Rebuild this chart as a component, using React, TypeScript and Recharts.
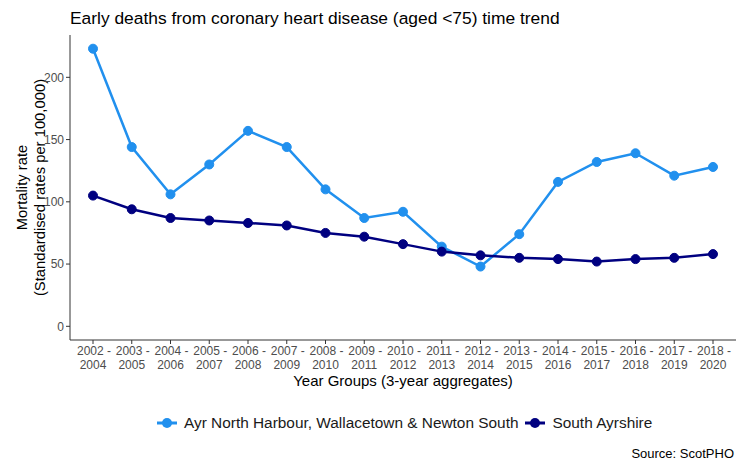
import { LineChart, Line, XAxis, YAxis } from 'recharts';

const FONT = '"Liberation Sans", Arial, sans-serif';

const yearGroups = [
  '2002 - 2004', '2003 - 2005', '2004 - 2006', '2005 - 2007', '2006 - 2008',
  '2007 - 2009', '2008 - 2010', '2009 - 2011', '2010 - 2012', '2011 - 2013',
  '2012 - 2014', '2013 - 2015', '2014 - 2016', '2015 - 2017', '2016 - 2018',
  '2017 - 2019', '2018 - 2020',
];
const ayrNorthRates = [223, 144, 106, 130, 157, 144, 110, 87, 92, 64, 48, 74, 116, 132, 139, 121, 128];
const southAyrshireRates = [105, 94, 87, 85, 83, 81, 75, 72, 66, 60, 57, 55, 54, 52, 54, 55, 58];
const yTicks = [0, 50, 100, 150, 200];

const AREA = 'Ayr North Harbour, Wallacetown & Newton South';
const COUNCIL = 'South Ayrshire';
const AREA_COLOR = '#2190ee';
const COUNCIL_COLOR = '#000080';

const data = yearGroups.map((period, i) => ({
  period,
  area: ayrNorthRates[i],
  council: southAyrshireRates[i],
}));

function YearTick({ x, y, payload }: any) {
  const [from, to] = String(payload.value).split(' - ');
  return (
    <g transform={`translate(${x},${y})`}>
      <text textAnchor="middle" fill="#4d4d4d" fontSize={12} fontFamily={FONT}>
        <tspan x={1} dy={10}>{from} -</tspan>
        <tspan x={0} dy={13.5}>{to}</tspan>
      </text>
    </g>
  );
}

function YLabel({ viewBox }: any) {
  const cy = viewBox.y + viewBox.height / 2;
  return (
    <text
      transform={`translate(0,${cy}) rotate(-90)`}
      textAnchor="middle"
      fontSize={14.8}
      fontFamily={FONT}
      fill="#000"
    >
      <tspan x={0} y={27}>Mortality rate</tspan>
      <tspan x={0} y={45}>(Standardised rates per 100,000)</tspan>
    </text>
  );
}

function LegendMarker({ color }: { color: string }) {
  return (
    <svg width={20} height={12} style={{ marginRight: 7 }}>
      <line x1={0} x2={20} y1={6} y2={6} stroke={color} strokeWidth={3} />
      <circle cx={10} cy={6} r={5} fill={color} />
    </svg>
  );
}

export default function App() {
  return (
    <div style={{ position: 'absolute', left: 0, top: 0, width: 736, height: 462, background: '#fff', overflow: 'hidden' }}>
      <div style={{ position: 'absolute', left: 70, top: 8, fontFamily: FONT, fontSize: 17.4, color: '#000', whiteSpace: 'nowrap' }}>
        Early deaths from coronary heart disease (aged &lt;75) time trend
      </div>
      <LineChart width={736} height={462} data={data} margin={{ top: 35, right: 0, bottom: 72, left: 20 }}>
        <XAxis
          dataKey="period"
          interval={0}
          padding={{ left: 23, right: 23 }}
          tick={<YearTick />}
          tickSize={4}
          tickMargin={1}
          height={50}
          stroke="#333"
          tickLine={{ stroke: '#333' }}
          label={{ value: 'Year Groups (3-year aggregates)', position: 'insideBottom', offset: 0, dy: -4, fill: '#000', fontSize: 15, fontFamily: FONT }}
        />
        <YAxis
          width={50}
          domain={[-11, 234]}
          ticks={yTicks}
          allowDataOverflow
          tickSize={4}
          tickMargin={2}
          stroke="#333"
          tick={{ fill: '#4d4d4d', fontSize: 12, fontFamily: FONT }}
          label={<YLabel />}
        />
        <Line
          dataKey="area"
          name={AREA}
          stroke={AREA_COLOR}
          strokeWidth={2.5}
          dot={{ r: 4.5, fill: AREA_COLOR, stroke: AREA_COLOR, strokeWidth: 1 }}
          activeDot={false}
          isAnimationActive={false}
        />
        <Line
          dataKey="council"
          name={COUNCIL}
          stroke={COUNCIL_COLOR}
          strokeWidth={2.5}
          dot={{ r: 4.5, fill: COUNCIL_COLOR, stroke: COUNCIL_COLOR, strokeWidth: 1 }}
          activeDot={false}
          isAnimationActive={false}
        />
      </LineChart>
      <div style={{ position: 'absolute', left: 157, top: 414, display: 'flex', alignItems: 'center', fontFamily: FONT, fontSize: 15.4, color: '#1a1a1a', whiteSpace: 'nowrap' }}>
        <span style={{ display: 'flex', alignItems: 'center', marginRight: 7 }}>
          <LegendMarker color={AREA_COLOR} />
          {AREA}
        </span>
        <span style={{ display: 'flex', alignItems: 'center' }}>
          <LegendMarker color={COUNCIL_COLOR} />
          {COUNCIL}
        </span>
      </div>
      <div style={{ position: 'absolute', right: 2, top: 446, fontFamily: FONT, fontSize: 13, color: '#000', whiteSpace: 'nowrap' }}>
        Source: ScotPHO
      </div>
    </div>
  );
}
